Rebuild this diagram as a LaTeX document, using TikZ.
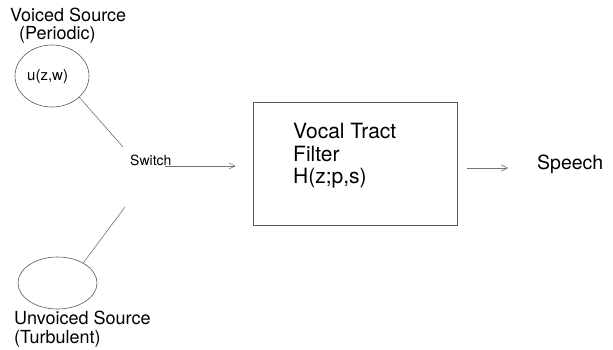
\documentclass[tikz,border=0pt]{standalone}
\usepackage{fontspec}
\setmainfont{TeX Gyre Heros}
\usetikzlibrary{arrows.meta,shapes.geometric}
\newcommand{\fsz}[1]{\fontsize{#1}{#1}\selectfont}
\tikzset{
  lbl/.style={inner sep=0pt, anchor=base west},
  src/.style={ellipse, draw=black!65, line width=0.6pt, inner sep=0pt},
  wire/.style={draw=black!55, line width=0.6pt},
  arr/.style={wire, -{Straight Barb[length=6pt,width=6pt]}},
  filterbox/.style={draw=black!65, line width=0.7pt, minimum width=204pt, minimum height=123pt, inner sep=0pt}
}
\begin{document}
\begin{tikzpicture}[x=1pt,y=-1pt]
\useasboundingbox (0,0) rectangle (613,350);

% voiced source
\node[lbl, font=\fsz{18}] (vs1) at (10,22) {Voiced Source};
\node[lbl, font=\fsz{18}] (vs2) at (19,40) {(Periodic)};
\node[src, minimum width=74pt, minimum height=62pt] (top) at (52,76) {};
\node[lbl, font=\fsz{15}] (uzw) at (27,81) {u(z,w)};

% unvoiced source
\node[src, minimum width=79pt, minimum height=52pt] (bot) at (57.5,283) {};
\node[lbl, font=\fsz{18}] (us1) at (14,324) {Unvoiced Source};
\node[lbl, font=\fsz{18}] (us2) at (14,343) {(Turbulent)};

% switch
\coordinate (swa) at (123,147);
\coordinate (swb) at (125,207);
\node[lbl, font=\fsz{14}] (sw) at (130,165) {Switch};
\coordinate (swin) at (165,166);

% vocal tract filter
\node[filterbox] (box) at (355,163.5) {};
\node[lbl, font=\fsz{21}] (f1) at (293,139) {Vocal Tract};
\node[lbl, font=\fsz{21}] (f2) at (293,161) {Filter};
\node[lbl, font=\fsz{21}] (f3) at (293,183) {H(z;p,s)};

% output
\node[lbl, font=\fsz{19.5}] (sp) at (537,169) {Speech};

% connectors
\draw[wire] (top.-38) -- (swa);
\draw[wire] (bot.38) -- (swb);
\draw[arr] (swin) -- ([xshift=-17pt]box.west |- swin);
\draw[arr] ([xshift=10pt]box.east |- 0,168) -- ([xshift=-29pt]sp.west |- 0,168);
\end{tikzpicture}
\end{document}
